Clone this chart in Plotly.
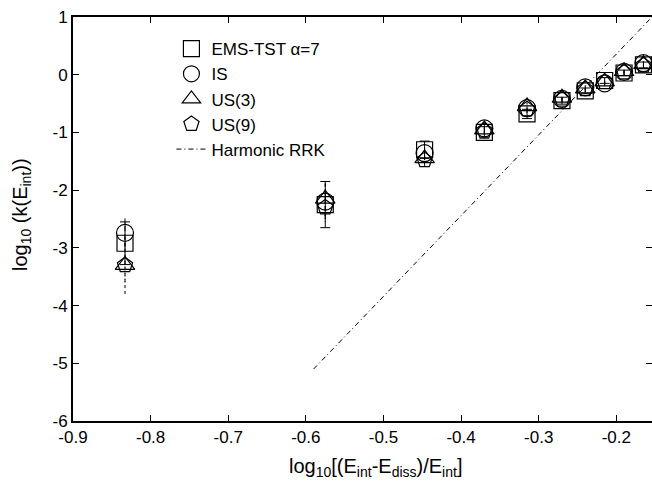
import plotly.graph_objects as go

# ---- data ----
x_vals = [-0.833, -0.575, -0.447, -0.370, -0.315, -0.270, -0.240, -0.215, -0.190, -0.165]
ems_tst = [-2.92, -2.25, -1.30, -1.00, -0.68, -0.45, -0.28, -0.10, 0.03, 0.17]
ems_err = [0.37, 0.40, 0.15, 0.10, 0.08, 0.06, 0.05, 0.05, 0.05, 0.05]
is_vals = [-2.74, -2.20, -1.36, -0.93, -0.58, -0.42, -0.22, -0.15, 0.05, 0.20]
is_err = [0.25, 0.30, 0.12, 0.08, 0.07, 0.05, 0.05, 0.05, 0.05, 0.05]
us3_vals = [-3.30, -2.15, -1.45, -0.95, -0.55, -0.40, -0.24, -0.12, 0.06, 0.18]
us3_err = [0.50, 0.30, 0.12, 0.08, 0.07, 0.05, 0.05, 0.05, 0.05, 0.05]
us9_vals = [-3.30, -2.30, -1.48, -0.97, -0.60, -0.43, -0.25, -0.13, 0.04, 0.16]
us9_err = [0.30, 0.25, 0.10, 0.07, 0.06, 0.05, 0.05, 0.05, 0.05, 0.05]
rrk_x = [-0.59, -0.154]
rrk_y = [-5.10, 1.00]

x_ticks = [-0.9, -0.8, -0.7, -0.6, -0.5, -0.4, -0.3, -0.2]
x_ticktext = ["-0.9", "-0.8", "-0.7", "-0.6", "-0.5", "-0.4", "-0.3", "-0.2"]
y_ticks = [-6, -5, -4, -3, -2, -1, 0, 1]
y_ticktext = ["-6", "-5", "-4", "-3", "-2", "-1", "0", "1"]

FONT = "Liberation Sans, Arial, sans-serif"
fig = go.Figure()


def err_segments(xs, ys, es):
    sx, sy = [], []
    for x, y, e in zip(xs, ys, es):
        sx += [x, x, None]
        sy += [y - e, y + e, None]
    return sx, sy


for ys, es, dash in [(is_vals, is_err, "5px,3px"),
                     (us3_vals, us3_err, "3px,3px"),
                     (us9_vals, us9_err, "1px,2px")]:
    sx, sy = err_segments(x_vals, ys, es)
    fig.add_trace(go.Scatter(x=sx, y=sy, mode="lines", showlegend=False,
                             line=dict(color="black", width=1, dash=dash),
                             hoverinfo="skip"))

fig.add_trace(go.Scatter(
    x=x_vals, y=ems_tst, mode="markers", name="EMS-TST α=7",
    marker=dict(symbol="square-open", size=16, color="black", line=dict(width=1.2)),
    error_y=dict(type="data", array=ems_err, color="black", thickness=1, width=5)))
fig.add_trace(go.Scatter(
    x=x_vals, y=is_vals, mode="markers", name="IS",
    marker=dict(symbol="circle-open", size=17, color="black", line=dict(width=1.2))))
fig.add_trace(go.Scatter(
    x=x_vals, y=us3_vals, mode="markers", name="US(3)",
    marker=dict(symbol="triangle-up-open", size=17, color="black", line=dict(width=1.2))))
fig.add_trace(go.Scatter(
    x=x_vals, y=us9_vals, mode="markers", name="US(9)",
    marker=dict(symbol="pentagon-open", size=16, color="black", line=dict(width=1.2))))
fig.add_trace(go.Scatter(
    x=rrk_x, y=rrk_y, mode="lines", name="Harmonic RRK",
    line=dict(color="black", width=1, dash="5px,3px,1px,3px")))

# invisible trace on right axis to get right-side inward ticks
fig.add_trace(go.Scatter(x=[x_ticks[0]], y=[y_ticks[0]], yaxis="y2", mode="markers",
                         marker=dict(opacity=0), showlegend=False, hoverinfo="skip"))

fig.update_layout(
    width=652, height=483,
    margin=dict(l=73, r=0, t=17, b=62),
    paper_bgcolor="white", plot_bgcolor="white",
    font=dict(family=FONT, size=17, color="black"),
    showlegend=True,
    legend=dict(x=0.17, y=0.965, xanchor="left", yanchor="top",
                bgcolor="rgba(0,0,0,0)", font=dict(size=17), tracegroupgap=0),
    xaxis=dict(range=[-0.9, -0.154], tickvals=x_ticks, ticktext=x_ticktext,
               showgrid=False, zeroline=False, showline=True, linecolor="black",
               linewidth=2, mirror="ticks", ticks="inside", ticklen=6,
               tickcolor="black", tickwidth=1, tickfont=dict(size=17)),
    yaxis=dict(range=[-6, 1], tickvals=y_ticks, ticktext=y_ticktext,
               showgrid=False, zeroline=False, showline=True, linecolor="black",
               linewidth=2, ticks="inside", ticklen=6, tickcolor="black", tickwidth=1,
               tickfont=dict(size=17)),
    yaxis2=dict(range=[-6, 1], overlaying="y", side="right", tickvals=y_ticks,
                showticklabels=False, showgrid=False, zeroline=False, showline=False,
                ticks="inside", ticklen=6, tickcolor="black", tickwidth=1),
    annotations=[
        dict(text="log<sub>10</sub>[(E<sub>int</sub>-E<sub>diss</sub>)/E<sub>int</sub>]",
             xref="paper", yref="paper", x=0.523, y=-0.115, xanchor="center",
             yanchor="middle", showarrow=False, font=dict(size=20)),
        dict(text="log<sub>10</sub> (k(E<sub>int</sub>))",
             xref="paper", yref="paper", x=-0.088, y=0.51, xanchor="center",
             yanchor="middle", textangle=-90, showarrow=False, font=dict(size=20)),
    ],
)

fig.write_html("out.html")
